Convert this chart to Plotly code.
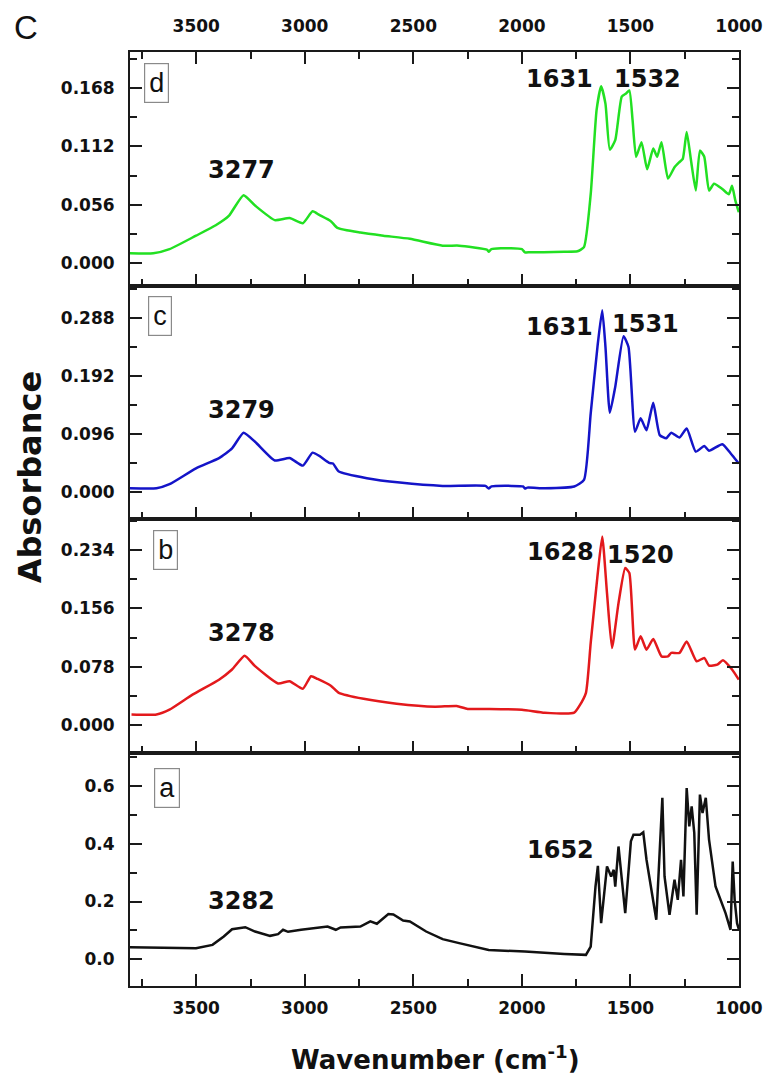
import plotly.graph_objects as go

# ---------------- data ----------------
wn_d = [3805, 3698, 3623, 3501, 3410, 3350, 3282, 3229, 3138, 3070, 3009, 2964, 2933, 2880,
        2850, 2744, 2638, 2516, 2365, 2289, 2160, 2153, 2140, 2050, 2000, 1986, 1964, 1900,
        1805, 1744, 1714, 1683, 1656, 1635, 1615, 1595, 1570, 1540, 1520, 1505, 1490, 1474,
        1449, 1423, 1395, 1377, 1357, 1327, 1297, 1274, 1259, 1241, 1221, 1199, 1180, 1160,
        1138, 1115, 1077, 1047, 1032, 1017, 1001]
abs_d = [0.009, 0.009, 0.013, 0.026, 0.036, 0.045, 0.065, 0.055, 0.041, 0.043, 0.038, 0.0495,
         0.046, 0.040, 0.0335, 0.029, 0.026, 0.023, 0.0164, 0.0164, 0.0125, 0.0105, 0.013,
         0.014, 0.013, 0.010, 0.010, 0.010, 0.0105, 0.011, 0.015, 0.066, 0.147, 0.170, 0.153,
         0.109, 0.118, 0.160, 0.163, 0.166, 0.137, 0.102, 0.116, 0.090, 0.110, 0.102, 0.116,
         0.081, 0.092, 0.097, 0.100, 0.126, 0.0985, 0.0695, 0.108, 0.102, 0.0695, 0.076, 0.071,
         0.066, 0.074, 0.060, 0.0486]

wn_c = [3805, 3683, 3623, 3501, 3395, 3335, 3282, 3229, 3138, 3070, 3009, 2964, 2933, 2888,
        2870, 2843, 2714, 2562, 2365, 2168, 2153, 2140, 2047, 1995, 1986, 1975, 1895, 1759,
        1714, 1683, 1652, 1630, 1615, 1595, 1570, 1532, 1509, 1479, 1453, 1426, 1395, 1365,
        1335, 1312, 1274, 1241, 1199, 1160, 1138, 1077, 1039, 1001]
abs_c = [0.006, 0.006, 0.0127, 0.039, 0.056, 0.072, 0.098, 0.083, 0.052, 0.056, 0.0435, 0.065,
         0.0595, 0.048, 0.047, 0.0336, 0.0226, 0.0154, 0.0099, 0.0099, 0.0055, 0.009, 0.0099,
         0.009, 0.0055, 0.007, 0.006, 0.0088, 0.0198, 0.130, 0.240, 0.301, 0.240, 0.131, 0.174,
         0.258, 0.240, 0.0997, 0.122, 0.102, 0.1476, 0.094, 0.0887, 0.098, 0.090, 0.105,
         0.0666, 0.076, 0.068, 0.079, 0.064, 0.047]

wn_b = [3798, 3683, 3623, 3517, 3395, 3335, 3277, 3229, 3123, 3070, 3009, 2971, 2941, 2880,
        2843, 2729, 2577, 2400, 2300, 2250, 2150, 2000, 1895, 1759, 1736, 1705, 1683, 1652,
        1630, 1608, 1585, 1555, 1524, 1505, 1479, 1453, 1426, 1395, 1357, 1327, 1312, 1274,
        1241, 1195, 1160, 1138, 1100, 1074, 1032, 1001]
abs_b = [0.0146, 0.0146, 0.021, 0.041, 0.061, 0.0745, 0.093, 0.079, 0.056, 0.059, 0.049, 0.0656,
         0.062, 0.053, 0.0435, 0.0355, 0.029, 0.025, 0.026, 0.022, 0.022, 0.021, 0.017, 0.017,
         0.0257, 0.0435, 0.110, 0.1985, 0.2517, 0.1764, 0.1033, 0.163, 0.2097, 0.203, 0.101,
         0.1187, 0.101, 0.1152, 0.0921, 0.0921, 0.0966, 0.0966, 0.112, 0.0855, 0.090, 0.0798,
         0.081, 0.0868, 0.0745, 0.061]

wn_a = [3805, 3501, 3425, 3373, 3335, 3274, 3229, 3160, 3123, 3100, 3077, 3017, 2895, 2857,
        2835, 2744, 2698, 2668, 2615, 2592, 2547, 2516, 2441, 2365, 2289, 2153, 1986, 1895,
        1805, 1705, 1683, 1661, 1650, 1635, 1608, 1589, 1577, 1570, 1555, 1524, 1498, 1486,
        1456, 1441, 1426, 1381, 1353, 1343, 1320, 1297, 1282, 1267, 1256, 1241, 1229, 1218,
        1206, 1195, 1180, 1168, 1153, 1138, 1120, 1108, 1062, 1039, 1029, 1020, 1009, 1000]
abs_a = [0.0417, 0.038, 0.0497, 0.0786, 0.104, 0.111, 0.096, 0.081, 0.087, 0.102, 0.095, 0.102,
         0.113, 0.102, 0.11, 0.113, 0.131, 0.123, 0.157, 0.155, 0.134, 0.131, 0.096, 0.0695,
         0.0556, 0.032, 0.0264, 0.021, 0.018, 0.015, 0.044, 0.252, 0.324, 0.125, 0.322, 0.287,
         0.310, 0.252, 0.391, 0.16, 0.409, 0.432, 0.432, 0.44, 0.345, 0.137, 0.56, 0.287,
         0.154, 0.276, 0.206, 0.345, 0.218, 0.594, 0.461, 0.53, 0.438, 0.154, 0.571, 0.507,
         0.56, 0.415, 0.31, 0.252, 0.16, 0.102, 0.339, 0.206, 0.125, 0.102]

panel_letters = ["a", "b", "c", "d"]
peak_labels_a = [("3282", 3291, 0.203), ("1652", 1823, 0.38)]
peak_labels_b = [("3278", 3291, 0.1236), ("1628", 1823, 0.2317), ("1520", 1455, 0.2273)]
peak_labels_c = [("3279", 3291, 0.1355), ("1631", 1827, 0.2726), ("1531", 1432, 0.278)]
peak_labels_d = [("3277", 3291, 0.089), ("1631", 1827, 0.1767), ("1532", 1423, 0.1767)]

# ---------------- figure ----------------
W, H = 775, 1081
L, R, T, B = 130, 28, 52, 95
plot_w = W - L - R
plot_h = H - T - B

FONT = "DejaVu Sans"
AXC = "#1a1a1a"
TICKFONT = dict(family=FONT, size=17, color="#111", weight="bold")

fig = go.Figure()
series = [
    (wn_a, abs_a, "#111111", "x", "y", "linear"),
    (wn_b, abs_b, "#e3191c", "x2", "y2", "spline"),
    (wn_c, abs_c, "#1414c8", "x3", "y3", "spline"),
    (wn_d, abs_d, "#22e022", "x4", "y4", "spline"),
]
for xs, ys, col, xa, ya, shape in series:
    ln = dict(color=col, width=2.5, shape=shape)
    if shape == "spline":
        ln["smoothing"] = 0.5
    fig.add_trace(go.Scatter(x=xs, y=ys, mode="lines", line=ln,
                             xaxis=xa, yaxis=ya, showlegend=False, hoverinfo="skip"))

xrange = [3805, 1000]
x_common = dict(range=xrange, showline=True, linecolor=AXC, linewidth=2, ticks="inside",
                ticklen=12, tickwidth=2, tickcolor=AXC, tick0=1000, dtick=500,
                minor=dict(ticks="inside", ticklen=7, tickwidth=2, tickcolor=AXC, dtick=250, tick0=1000),
                showgrid=False, zeroline=False, tickfont=TICKFONT)

y_specs = [
    ([-0.093, 0.717], 0.2, 0.1, ".1f"),
    ([-0.036, 0.275], 0.078, 0.039, ".3f"),
    ([-0.045, 0.342], 0.096, 0.048, ".3f"),
    ([-0.022, 0.203], 0.056, 0.028, ".3f"),
]

layout = dict(width=W, height=H, margin=dict(l=L, r=R, t=T, b=B),
              paper_bgcolor="white", plot_bgcolor="white")
for i in range(4):
    sfx = "" if i == 0 else str(i + 1)
    rng, dt, mdt, fmt = y_specs[i]
    xa = dict(x_common)
    xa["anchor"] = "y" + sfx
    xa["mirror"] = "ticks" if i == 3 else True
    xa["showticklabels"] = (i == 0)
    xa["ticklabelstandoff"] = 6
    if i > 0:
        xa["matches"] = "x"
    layout["xaxis" + sfx] = xa
    layout["yaxis" + sfx] = dict(
        domain=[i * 0.25, (i + 1) * 0.25], anchor="x" + sfx, range=rng,
        showline=True, linecolor=AXC, linewidth=2, mirror="ticks",
        ticks="inside", ticklen=12, tickwidth=2, tickcolor=AXC,
        tick0=0, dtick=dt, tickformat=fmt,
        minor=dict(ticks="inside", ticklen=7, tickwidth=2, tickcolor=AXC, dtick=mdt, tick0=0),
        showgrid=False, zeroline=False, ticklabelstandoff=10, tickfont=TICKFONT)

layout["xaxis5"] = dict(range=xrange, overlaying="x4", anchor="y4", side="top",
                        showline=False, ticks="", tick0=1000, dtick=500, showgrid=False,
                        zeroline=False, ticklabelstandoff=16, tickfont=TICKFONT)
fig.update_layout(**layout)
fig.add_trace(go.Scatter(x=[xrange[0], xrange[1]], y=[None, None], xaxis="x5", yaxis="y4",
                         mode="lines", showlegend=False, hoverinfo="skip"))

ann = []
for labels, sfx in [(peak_labels_a, ""), (peak_labels_b, "2"), (peak_labels_c, "3"), (peak_labels_d, "4")]:
    for txt, xv, yv in labels:
        ann.append(dict(text=txt, x=xv, y=yv, xref="x" + sfx, yref="y" + sfx, showarrow=False,
                        font=dict(family=FONT, size=24, color="#111", weight="bold"),
                        xanchor="center", yanchor="middle"))

def px2paper(px, py):
    return (px - L) / plot_w, (H - B - py) / plot_h

box_pos = {"d": (157, 83), "c": (160, 316), "b": (165.5, 549.5), "a": (167.5, 787.5)}
for letter in panel_letters:
    bx, by = px2paper(*box_pos[letter])
    ann.append(dict(text=letter, x=bx, y=by, xref="paper", yref="paper", showarrow=False,
                    font=dict(family="Liberation Sans", size=27, color="#111"),
                    bordercolor="#8a8a8a", borderwidth=1.2, borderpad=4,
                    xanchor="center", yanchor="middle"))

cx, cy = px2paper(25, 27)
ann.append(dict(text="C", x=cx, y=cy, xref="paper", yref="paper", showarrow=False,
                font=dict(family="Liberation Sans", size=33, color="#111"),
                xanchor="center", yanchor="middle"))
tx, ty = px2paper(29, 477)
ann.append(dict(text="Absorbance", x=tx, y=ty, xref="paper", yref="paper", showarrow=False,
                textangle=-90, font=dict(family=FONT, size=32, color="#111", weight="bold"),
                xanchor="center", yanchor="middle"))
wx, wy = px2paper(440, 1058)
ann.append(dict(text="Wavenumber (cm<sup>-1</sup>)", x=wx, y=wy, xref="paper", yref="paper",
                showarrow=False, font=dict(family=FONT, size=26, color="#111", weight="bold"),
                xanchor="center", yanchor="middle"))
fig.update_layout(annotations=ann)

fig.write_html("out.html")
